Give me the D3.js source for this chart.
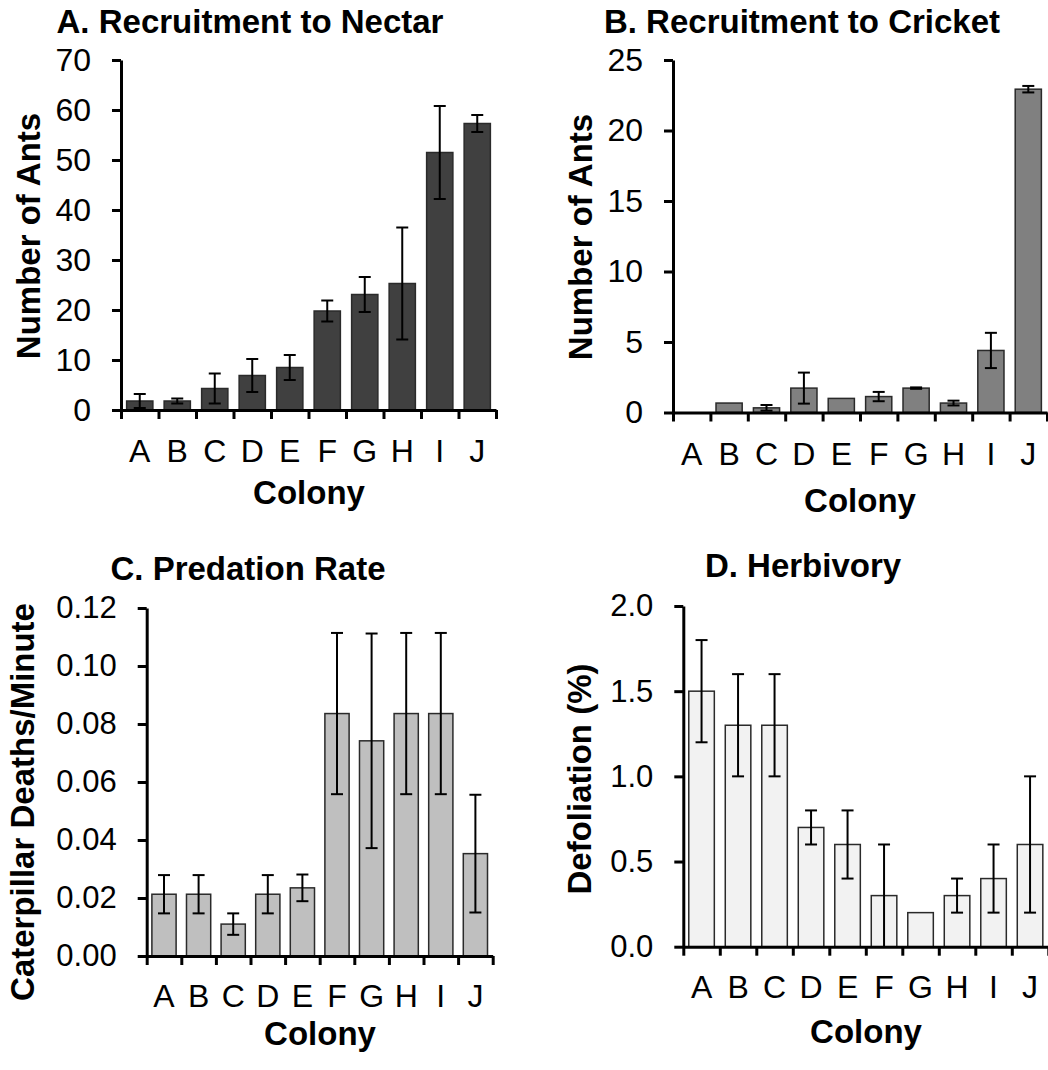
<!DOCTYPE html>
<html>
<head>
<meta charset="utf-8">
<script src="https://cdn.jsdelivr.net/npm/d3@7"></script>
<style>
  html, body { margin: 0; padding: 0; background: #fff; }
  svg { display: block; }
  text { font-family: "Liberation Sans", Arial, Helvetica, sans-serif; fill: #000; }
</style>
</head>
<body>
<svg id="chart" width="1048" height="1070"></svg>
<script>
// Colonies shared by all four panels
const colonies = ["A", "B", "C", "D", "E", "F", "G", "H", "I", "J"];

// A. Ants recruited to nectar (mean ± SE)
const nectarMean = [1.8, 1.8, 4.3, 6.9, 8.5, 19.8, 23.1, 25.3, 51.5, 57.3];
const nectarErr  = [1.4, 0.5, 3.0, 3.3, 2.5, 2.1, 3.5, 11.2, 9.3, 1.7];
const nectarTicks = [0, 10, 20, 30, 40, 50, 60, 70];

// B. Ants recruited to cricket (mean ± SE)
const cricketMean = [0, 0.67, 0.33, 1.73, 1.0, 1.13, 1.73, 0.67, 4.4, 22.93];
const cricketErr  = [0, 0, 0.2, 1.1, 0, 0.33, 0.05, 0.17, 1.25, 0.23];
const cricketTicks = [0, 5, 10, 15, 20, 25];

// C. Caterpillar deaths per minute (mean ± SE)
const predationMean = [0.0213, 0.0213, 0.011, 0.0213, 0.0235, 0.0836, 0.0742, 0.0836, 0.0836, 0.0353];
const predationErr  = [0.0066, 0.0066, 0.0037, 0.0066, 0.0046, 0.0278, 0.037, 0.0278, 0.0278, 0.0203];
const predationTicks = [0, 0.02, 0.04, 0.06, 0.08, 0.10, 0.12];

// D. Defoliation percentage (mean ± SE)
const herbivoryMean = [1.5, 1.3, 1.3, 0.7, 0.6, 0.3, 0.2, 0.3, 0.4, 0.6];
const herbivoryErr  = [0.3, 0.3, 0.3, 0.1, 0.2, 0.3, 0, 0.1, 0.2, 0.4];
const herbivoryTicks = [0, 0.5, 1.0, 1.5, 2.0];

const svg = d3.select("#chart");
const CAT_FS = 32;
const BOLD_FS = 33;

const panels = [
  { title: "A. Recruitment to Nectar", ylab: "Number of Ants",
    mean: nectarMean, err: nectarErr, ticks: nectarTicks, fmt: d3.format("d"), tickFs: 32,
    fill: "#404040", left: 121, right: 496, top: 60, bottom: 410,
    titlePos: [250, 33], ylabPos: [40, 236], xlabPos: [309, 504], catBase: 462 },
  { title: "B. Recruitment to Cricket", ylab: "Number of Ants",
    mean: cricketMean, err: cricketErr, ticks: cricketTicks, fmt: d3.format("d"), tickFs: 32,
    fill: "#808080", left: 673, right: 1047, top: 60, bottom: 412.5,
    titlePos: [802, 33], ylabPos: [592, 237], xlabPos: [860, 512], catBase: 465 },
  { title: "C. Predation Rate", ylab: "Caterpillar Deaths/Minute",
    mean: predationMean, err: predationErr, ticks: predationTicks, fmt: d3.format(".2f"), tickFs: 31,
    fill: "#bfbfbf", left: 146.7, right: 492.7, top: 608, bottom: 956,
    titlePos: [248, 580], ylabPos: [34, 802], xlabPos: [320, 1045], catBase: 1006.5 },
  { title: "D. Herbivory", ylab: "Defoliation (%)",
    mean: herbivoryMean, err: herbivoryErr, ticks: herbivoryTicks, fmt: d3.format(".1f"), tickFs: 31,
    fill: "#f2f2f2", left: 683.3, right: 1048.3, top: 606, bottom: 946.7,
    titlePos: [803, 577], ylabPos: [591, 779], xlabPos: [866, 1043], catBase: 998.5 }
];

panels.forEach(p => {
  const g = svg.append("g");
  const n = colonies.length;

  const x = d3.scaleBand().domain(colonies).range([p.left, p.right])
    .paddingInner(0.3).paddingOuter(0.15);
  const xEdge = d3.scaleLinear().domain([0, n]).range([p.left, p.right]);
  const y = d3.scaleLinear()
    .domain([0, p.ticks[p.ticks.length - 1]])
    .range([p.bottom, p.top]);

  const rows = colonies.map((c, i) => ({ c, m: p.mean[i], e: p.err[i] }));

  // bars
  g.append("g").selectAll("rect").data(rows).join("rect")
    .attr("x", d => x(d.c))
    .attr("width", x.bandwidth())
    .attr("y", d => y(d.m))
    .attr("height", d => y(0) - y(d.m))
    .attr("fill", p.fill)
    .attr("stroke", "#2a2a2a")
    .attr("stroke-width", 1.5);

  // error bars
  const cap = 6;
  const eb = g.append("g").attr("stroke", "#000").attr("stroke-width", 2)
    .selectAll("g").data(rows.filter(d => d.e > 0)).join("g");
  eb.append("line")
    .attr("x1", d => x(d.c) + x.bandwidth() / 2).attr("x2", d => x(d.c) + x.bandwidth() / 2)
    .attr("y1", d => y(Math.max(0, d.m - d.e))).attr("y2", d => y(d.m + d.e));
  eb.append("line")
    .attr("x1", d => x(d.c) + x.bandwidth() / 2 - cap).attr("x2", d => x(d.c) + x.bandwidth() / 2 + cap)
    .attr("y1", d => y(d.m + d.e)).attr("y2", d => y(d.m + d.e));
  eb.filter(d => d.m - d.e > 1e-9).append("line")
    .attr("x1", d => x(d.c) + x.bandwidth() / 2 - cap).attr("x2", d => x(d.c) + x.bandwidth() / 2 + cap)
    .attr("y1", d => y(d.m - d.e)).attr("y2", d => y(d.m - d.e));

  // y axis
  const yAxis = g.append("g").attr("transform", `translate(${p.left},0)`)
    .call(d3.axisLeft(y).tickValues(p.ticks).tickFormat(p.fmt)
      .tickSize(9).tickSizeOuter(0).tickPadding(21));
  yAxis.select(".domain").attr("stroke-width", 3);
  yAxis.selectAll(".tick line").attr("stroke-width", 3);
  yAxis.selectAll("text").attr("font-size", p.tickFs);

  // x axis line with ticks at colony boundaries
  const xAxis = g.append("g").attr("transform", `translate(0,${p.bottom})`)
    .call(d3.axisBottom(xEdge).tickValues(d3.range(n + 1)).tickFormat("")
      .tickSize(9).tickSizeOuter(0));
  xAxis.select(".domain").attr("stroke-width", 3);
  xAxis.selectAll(".tick line").attr("stroke-width", 3);

  // colony labels
  const pad = p.catBase - p.bottom - 0.71 * CAT_FS;
  const xLab = g.append("g").attr("transform", `translate(0,${p.bottom})`)
    .call(d3.axisBottom(x).tickSize(0).tickPadding(pad));
  xLab.select(".domain").remove();
  xLab.selectAll("text").attr("font-size", CAT_FS);

  // titles
  g.append("text").attr("x", p.titlePos[0]).attr("y", p.titlePos[1])
    .attr("text-anchor", "middle").attr("font-weight", "bold").attr("font-size", BOLD_FS)
    .text(p.title);
  g.append("text").attr("x", p.xlabPos[0]).attr("y", p.xlabPos[1])
    .attr("text-anchor", "middle").attr("font-weight", "bold").attr("font-size", BOLD_FS)
    .text("Colony");
  g.append("text")
    .attr("transform", `translate(${p.ylabPos[0]},${p.ylabPos[1]}) rotate(-90)`)
    .attr("text-anchor", "middle").attr("font-weight", "bold").attr("font-size", BOLD_FS)
    .text(p.ylab);
});
</script>
</body>
</html>
